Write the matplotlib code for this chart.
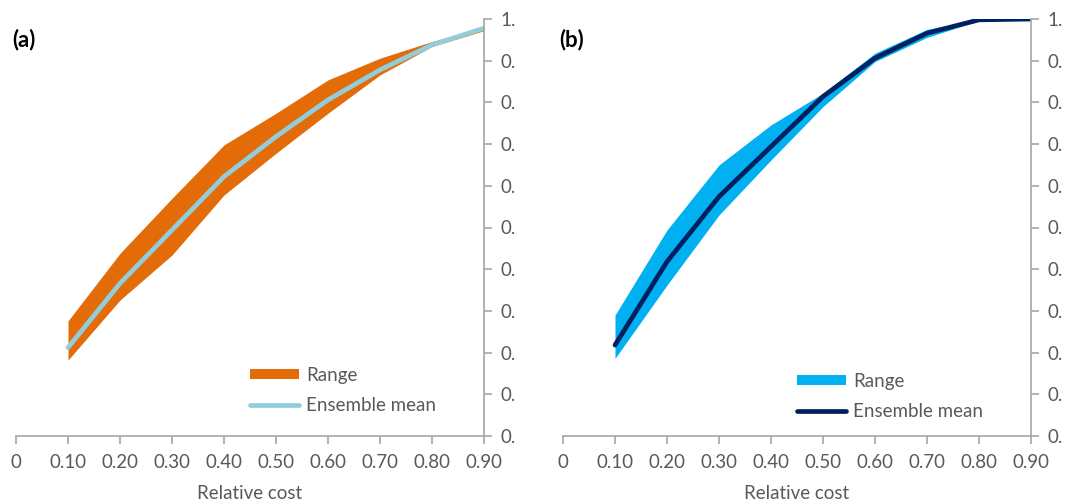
import matplotlib.pyplot as plt
from matplotlib.ticker import FixedLocator

plt.rcParams['font.family'] = ['Lato', 'DejaVu Sans']

# categories on the x axis (0 has no data)
cost = [0.1, 0.2, 0.3, 0.4, 0.5, 0.6, 0.7, 0.8, 0.9]
x_ticks = [0, 0.1, 0.2, 0.3, 0.4, 0.5, 0.6, 0.7, 0.8, 0.9]
x_labels = ['0', '0.10', '0.20', '0.30', '0.40', '0.50', '0.60', '0.70', '0.80', '0.90']
y_ticks = [0, 0.1, 0.2, 0.3, 0.4, 0.5, 0.6, 0.7, 0.8, 0.9, 1.0]
y_labels = ['0.'] * 10 + ['1.']

# panel (a)
a_mean = [0.212, 0.366, 0.494, 0.622, 0.718, 0.806, 0.878, 0.938, 0.978]
a_low = [0.182, 0.326, 0.434, 0.578, 0.678, 0.774, 0.866, 0.934, 0.972]
a_high = [0.276, 0.438, 0.570, 0.698, 0.774, 0.854, 0.906, 0.946, 0.980]

# panel (b)
b_mean = [0.218, 0.418, 0.574, 0.694, 0.814, 0.906, 0.966, 0.998, 1.0]
b_low = [0.186, 0.362, 0.530, 0.662, 0.790, 0.898, 0.956, 0.996, 0.998]
b_high = [0.290, 0.494, 0.650, 0.746, 0.822, 0.918, 0.975, 1.0, 1.0]

grey = '#A6A6A6'
text_grey = '#595959'

fig = plt.figure(figsize=(10.68, 5.04), dpi=100)
ax_a = fig.add_axes([16 / 1068, 68 / 504, 468 / 1068, 417 / 504])
ax_b = fig.add_axes([563 / 1068, 68 / 504, 468 / 1068, 417 / 504])


def draw_panel(ax, low, high, mean, fill_c, line_c, tag, leg_pos):
    ax.fill_between(cost, low, high, color=fill_c, lw=0, label='Range')
    ax.plot(cost, mean, color=line_c, lw=3.4, solid_capstyle='round', label='Ensemble mean')

    ax.set_xlim(0, 0.9)
    ax.set_ylim(0, 1.0)
    ax.xaxis.set_major_locator(FixedLocator(x_ticks))
    ax.set_xticklabels(x_labels)
    ax.yaxis.tick_right()
    ax.yaxis.set_major_locator(FixedLocator(y_ticks))
    ax.set_yticklabels(y_labels)

    for s in ['left', 'top']:
        ax.spines[s].set_visible(False)
    for s in ['right', 'bottom']:
        ax.spines[s].set_color(grey)
        ax.spines[s].set_linewidth(1.2)
    ax.tick_params(axis='both', colors=grey, length=6, width=1.2,
                   labelcolor=text_grey, labelsize=13.5)
    ax.tick_params(axis='x', pad=7)
    ax.tick_params(axis='y', pad=6)

    ax.set_xlabel('Relative cost', fontsize=13.5, color=text_grey, labelpad=10)
    ax.text(-0.008, 0.95, tag, transform=ax.transAxes, fontsize=16,
            fontweight='bold', color='black', va='center', ha='left')

    leg = ax.legend(loc='center left', bbox_to_anchor=leg_pos, frameon=False,
                    fontsize=13.5, handlelength=2.6, handleheight=0.45,
                    handletextpad=0.4, labelspacing=0.7, borderpad=0, borderaxespad=0)
    for t in leg.get_texts():
        t.set_color(text_grey)


draw_panel(ax_a, a_low, a_high, a_mean, '#E36C09', '#92CDDC', '(a)', (0.50, 0.11))
draw_panel(ax_b, b_low, b_high, b_mean, '#00B0F0', '#002060', '(b)', (0.50, 0.095))

fig.savefig('out.png', dpi=100)
